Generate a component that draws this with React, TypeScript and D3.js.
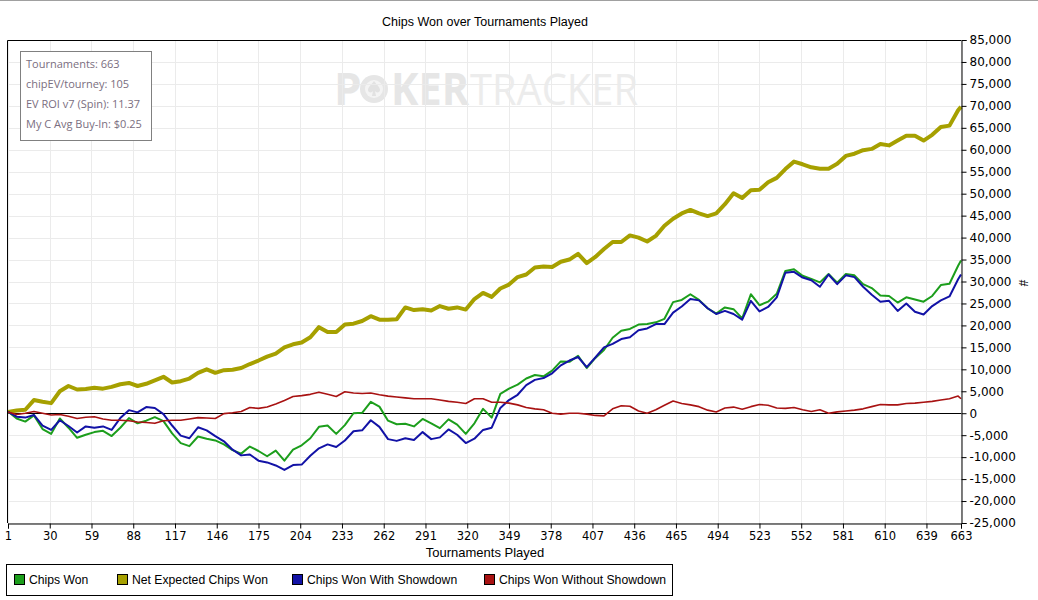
import React, { useRef, useEffect } from "react";
import * as d3 from "d3";

const tournaments = [
  1, 7, 13, 19, 25, 31, 37, 43, 49, 55, 61, 67, 73, 79, 85, 91, 97, 103, 109, 115,
  121, 127, 133, 139, 145, 151, 157, 163, 169, 175, 181, 187, 193, 199, 205, 211, 217, 223, 229, 235,
  241, 247, 253, 259, 265, 271, 277, 283, 289, 295, 301, 307, 313, 319, 325, 331, 337, 343, 349, 355,
  361, 367, 373, 379, 385, 391, 397, 403, 409, 415, 421, 427, 433, 439, 445, 451, 457, 463, 469, 475,
  481, 487, 493, 499, 505, 511, 517, 523, 529, 535, 541, 547, 553, 559, 565, 571, 577, 583, 589, 595,
  601, 607, 613, 619, 625, 631, 637, 643, 649, 655, 661, 663,
];

const chipsWon = [
  400, -1200, -1900, -500, -3600, -4700, -1200, -3300, -5600, -4900, -4300, -4000, -5200, -3300, -1100, -2300, -1700, -900, -1800, -4600,
  -6800, -7500, -5300, -5800, -6200, -7100, -8400, -9200, -7600, -8600, -9800, -8500, -10800, -8300, -7300, -5700, -3100, -2800, -4700, -2700,
  0, 100, 2600, 1500, -1700, -2500, -2400, -3000, -1300, -2300, -3400, -1400, -2600, -4700, -2300, 1000, -1000, 4400, 5600, 6500,
  7900, 8700, 8400, 9700, 11800, 11700, 13100, 10300, 12600, 14400, 17200, 18800, 19200, 20200, 20300, 20700, 21500, 25300, 25800, 27100,
  25800, 23900, 22700, 24100, 23700, 21600, 27100, 24600, 25400, 27200, 32400, 32800, 31300, 30600, 29800, 31700, 29700, 31700, 31400, 29400,
  28500, 26800, 26700, 25200, 26400, 25900, 25400, 26700, 29200, 29500, 33600, 34800,
];

const netExpected = [
  300, 600, 800, 3000, 2600, 2300, 5000, 6200, 5400, 5500, 5800, 5600, 6000, 6600, 6900, 6200, 6700, 7500, 8300, 7000,
  7300, 7900, 9200, 10000, 9200, 9800, 9900, 10300, 11200, 12000, 12900, 13600, 15000, 15700, 16100, 17300, 19600, 18500, 18500, 20200,
  20400, 21000, 22100, 21300, 21300, 21400, 24100, 23500, 23700, 23400, 24400, 23800, 24100, 23600, 26000, 27400, 26500, 28400, 29300, 31000,
  31600, 33200, 33400, 33300, 34500, 35000, 36300, 34200, 35600, 37400, 39000, 39000, 40500, 40000, 39100, 40400, 42700, 44300, 45500, 46300,
  45500, 44900, 45500, 47600, 50100, 49000, 50800, 50900, 52600, 53600, 55600, 57300, 56700, 56000, 55700, 55700, 56800, 58600, 59100, 59900,
  60200, 61300, 61000, 62100, 63200, 63200, 62100, 63400, 65200, 65500, 69000, 69800,
];

const withShowdown = [
  300, -800, -1000, -400, -2800, -3800, -1600, -2900, -4400, -3000, -3300, -3000, -3800, -1100, 700, 200, 1400, 1200, -200, -2800,
  -5100, -5700, -3200, -3900, -5200, -6400, -8300, -9600, -9400, -10800, -11200, -11900, -12900, -11800, -11700, -9700, -8000, -7100, -7700, -6200,
  -4100, -3900, -1600, -3100, -5900, -6300, -5700, -6100, -4300, -5900, -5500, -3700, -4900, -6800, -5800, -3800, -3300, 1200, 3000, 4200,
  6400, 7600, 8000, 9100, 10900, 12000, 12800, 10500, 12700, 15000, 15800, 16900, 17300, 18900, 19300, 20300, 20300, 22900, 24300, 26000,
  25700, 23900, 22600, 23300, 22600, 21300, 25600, 23200, 24200, 26400, 32000, 32200, 30900, 30300, 28800, 31600, 29400, 31400, 31000, 28800,
  27000, 25400, 25600, 23300, 25000, 23100, 22500, 24400, 25700, 26600, 30500, 31600,
];

const withoutShowdown = [
  300, -300, 0, 400, 0, -400, -300, -700, -1200, -900, -800, -1300, -1600, -1600, -1700, -2000, -2100, -2300, -1700, -1600,
  -1600, -1300, -1000, -1100, -1200, -100, 100, 400, 1300, 1100, 1400, 2100, 2900, 3800, 4000, 4300, 4800, 4300, 3800, 4900,
  4600, 4500, 4600, 4200, 3900, 3700, 3500, 3300, 3300, 3300, 3000, 2700, 2500, 2200, 3300, 3300, 2500, 2500, 2300, 1900,
  1300, 1000, 800, 0, -200, 0, 0, -200, -500, -600, 1000, 1700, 1600, 500, 0, 800, 1800, 2800, 2200, 1900,
  1500, 700, 300, 1200, 1400, 900, 1500, 2000, 1800, 1200, 1100, 1300, 800, 400, 800, 0, 300, 500, 700, 1000,
  1500, 2000, 1900, 1900, 2200, 2300, 2500, 2700, 3000, 3300, 3900, 3300,
];

const xTicks = [1, 30, 59, 88, 117, 146, 175, 204, 233, 262, 291, 320, 349, 378, 407, 436, 465, 494, 523, 552, 581, 610, 639, 663];
const yTicks = [85000, 80000, 75000, 70000, 65000, 60000, 55000, 50000, 45000, 40000, 35000, 30000, 25000, 20000, 15000, 10000, 5000, 0, -5000, -10000, -15000, -20000, -25000];

const statLines = ["Tournaments: 663", "chipEV/tourney: 105", "EV ROI v7 (Spin): 11.37", "My C Avg Buy-In: $0.25"];

const seriesNames = ["Chips Won", "Net Expected Chips Won", "Chips Won With Showdown", "Chips Won Without Showdown"];
const seriesColors = ["#1c9e1c", "#a6a000", "#1212a6", "#a81212"];

const FONT = "'Liberation Sans', Arial, sans-serif";

const App = () => {
  const svgRef = useRef(null);

  useEffect(() => {
    const svg = d3.select(svgRef.current);
    svg.selectAll("*").remove();

    const W = 1038;
    const margin = { top: 40, left: 8, right: 961, bottom: 523 };

    const x = d3.scaleLinear().domain([1, 663]).range([margin.left, margin.right]);
    const y = d3.scaleLinear().domain([-25000, 85000]).range([margin.bottom, margin.top]);
    const fmt = (v) => d3.format(",")(v).replace("\u2212", "-");

    svg.append("rect").attr("width", W).attr("height", 600).attr("fill", "#fff");
    svg.append("line").attr("x1", 0).attr("x2", W).attr("y1", 0.5).attr("y2", 0.5).attr("stroke", "#a0a0a0");

    // title
    svg.append("text")
      .attr("x", 485).attr("y", 26)
      .attr("text-anchor", "middle")
      .attr("font-family", FONT).attr("font-size", 12.5)
      .text("Chips Won over Tournaments Played");

    // watermark
    const wm = svg.append("g").attr("fill", "#ececec");
    wm.append("text").attr("x", 334).attr("y", 105).attr("font-family", "'Open Sans', sans-serif")
      .attr("font-weight", 700).attr("font-size", 44).attr("fill", "#e6e6e6").text("P");
    wm.append("circle").attr("cx", 374).attr("cy", 89).attr("r", 14).attr("fill", "#e6e6e6");
    wm.append("circle").attr("cx", 374).attr("cy", 89).attr("r", 9).attr("fill", "#f4f4f4");
    wm.append("path").attr("d", "M374,81 C371,85 368,87 368,90 C368,93 372,93 373,91 L372,96 L376,96 L375,91 C376,93 380,93 380,90 C380,87 377,85 374,81Z")
      .attr("fill", "#e2e2e2");
    wm.append("text").attr("x", 391).attr("y", 105).attr("font-family", "'Open Sans', sans-serif")
      .attr("font-weight", 700).attr("font-size", 44).attr("fill", "#e6e6e6")
      .attr("textLength", 78).attr("lengthAdjust", "spacingAndGlyphs").text("KER");
    wm.append("text").attr("x", 470).attr("y", 105).attr("font-family", "'Open Sans', sans-serif")
      .attr("font-weight", 400).attr("font-size", 44)
      .attr("textLength", 168).attr("lengthAdjust", "spacingAndGlyphs").text("TRACKER");

    // grid
    const grid = svg.append("g").attr("stroke", "#ebebeb").attr("stroke-width", 1);
    grid.selectAll(".gx").data(xTicks).enter().append("line")
      .attr("x1", (d) => Math.round(x(d)) + 0.5).attr("x2", (d) => Math.round(x(d)) + 0.5)
      .attr("y1", margin.top).attr("y2", margin.bottom);
    grid.selectAll(".gy").data(yTicks).enter().append("line")
      .attr("x1", margin.left).attr("x2", margin.right)
      .attr("y1", (d) => Math.round(y(d)) + 0.5).attr("y2", (d) => Math.round(y(d)) + 0.5);

    // zero line
    svg.append("line")
      .attr("x1", margin.left).attr("x2", margin.right)
      .attr("y1", Math.round(y(0)) + 0.5).attr("y2", Math.round(y(0)) + 0.5)
      .attr("stroke", "#000");

    // lines
    const series = [chipsWon, netExpected, withShowdown, withoutShowdown];
    const widths = [2, 4, 2, 1.6];
    const order = [1, 0, 2, 3];
    order.forEach((k) => {
      const line = d3.line()
        .x((d, i) => x(tournaments[i]))
        .y((d) => y(d));
      svg.append("path")
        .datum(series[k])
        .attr("fill", "none")
        .attr("stroke", seriesColors[k])
        .attr("stroke-width", widths[k])
        .attr("stroke-linejoin", "round")
        .attr("d", line);
    });

    // frame: top + left border
    svg.append("path")
      .attr("d", `M${margin.left - 0.5},${margin.bottom}V${margin.top + 0.5}H${margin.right}`)
      .attr("fill", "none").attr("stroke", "#000");

    // right axis
    svg.append("g")
      .attr("transform", `translate(${margin.right + 0.5},0)`)
      .call(d3.axisRight(y).tickValues(yTicks).tickFormat(fmt).tickSize(5).tickPadding(3))
      .call((g) => g.select(".domain").attr("stroke", "#000"))
      .call((g) => g.selectAll("text").attr("font-family", "'DejaVu Sans', sans-serif").attr("font-size", 12).attr("fill", "#000"));

    // bottom axis
    svg.append("g")
      .attr("transform", `translate(0,${margin.bottom + 0.5})`)
      .call(d3.axisBottom(x).tickValues(xTicks).tickFormat(d3.format("d")).tickSize(5).tickPadding(3))
      .call((g) => g.select(".domain").attr("stroke", "#000"))
      .call((g) => g.selectAll("text").attr("font-family", "'DejaVu Sans', sans-serif").attr("font-size", 11.5).attr("fill", "#000"));

    svg.append("text")
      .attr("x", 485).attr("y", 557)
      .attr("text-anchor", "middle")
      .attr("font-family", FONT).attr("font-size", 13)
      .text("Tournaments Played");

    svg.append("text")
      .attr("transform", "translate(1019,283) rotate(90)")
      .attr("text-anchor", "middle")
      .attr("font-family", FONT).attr("font-size", 12)
      .text("#");

    // stats box
    svg.append("rect")
      .attr("x", 20.5).attr("y", 51.5).attr("width", 131).attr("height", 89)
      .attr("fill", "#fff").attr("stroke", "#808080");
    svg.selectAll(".stat").data(statLines).enter().append("text")
      .attr("x", 26).attr("y", (d, i) => 68 + i * 20)
      .attr("font-family", "'Open Sans', sans-serif").attr("font-size", 11)
      .attr("fill", "#7a6e80")
      .text((d) => d);

    // legend
    const legendX = [14, 117, 292, 484];
    svg.append("rect")
      .attr("x", 6.5).attr("y", 564.5).attr("width", 666).attr("height", 31)
      .attr("fill", "#fff").attr("stroke", "#000");
    const lg = svg.selectAll(".lg").data(seriesNames).enter().append("g")
      .attr("transform", (d, i) => `translate(${legendX[i]},574)`);
    lg.append("rect").attr("x", 0.5).attr("y", 0.5).attr("width", 10).attr("height", 10)
      .attr("fill", (d, i) => seriesColors[i]).attr("stroke", "#000");
    lg.append("text").attr("x", 15).attr("y", 10)
      .attr("font-family", FONT).attr("font-size", 12.2)
      .text((d) => d);
  }, []);

  return (
    <svg ref={svgRef} width={1038} height={600} style={{ position: "absolute", left: 0, top: 0 }} />
  );
};

export default App;
